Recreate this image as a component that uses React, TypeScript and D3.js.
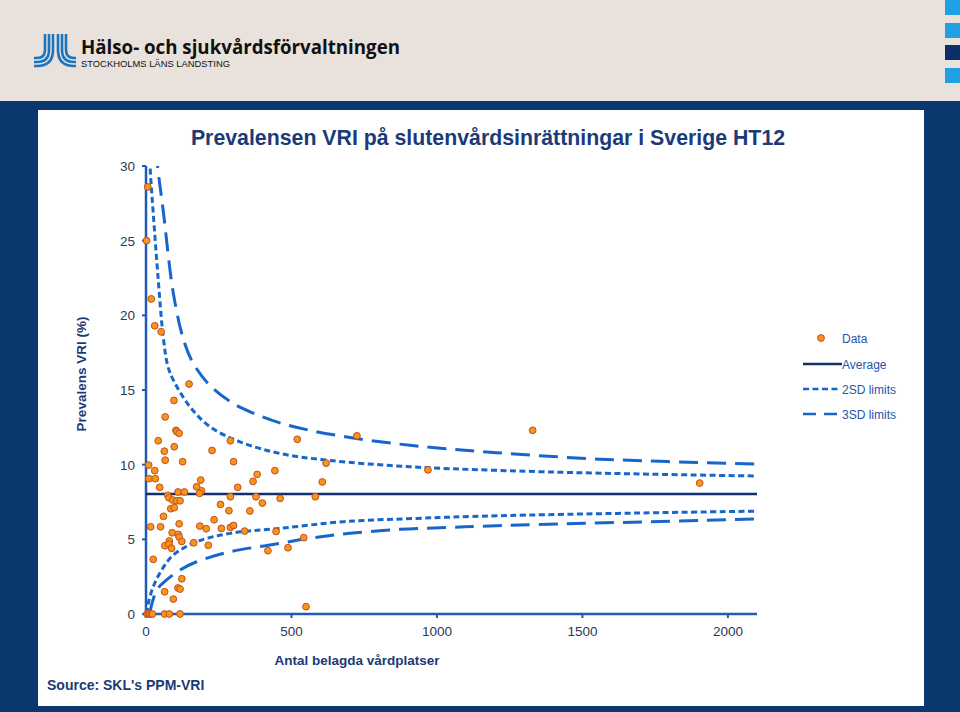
import React from "react";
import * as d3 from "d3";

// ---- data ----
const beds = [6, 2, 18, 30, 52, 148, 96, 66, 103, 106, 114, 42, 290, 520, 63, 97, 227, 66, 126, 301, 619, 9, 30, 443, 10, 32, 188, 382, 368, 606, 47, 174, 191, 184, 315, 110, 132, 75, 79, 92, 106, 117, 290, 378, 461, 582, 256, 400, 85, 97, 285, 357, 60, 234, 16, 50, 114, 185, 207, 259, 290, 301, 339, 447, 90, 111, 114, 123, 80, 65, 79, 88, 164, 214, 419, 488, 542, 25, 123, 64, 110, 117, 94, 550, 725, 1329, 969, 1903, 3, 8, 12, 18, 22, 64, 80, 117];
const prevalence = [28.6, 25.0, 21.1, 19.3, 18.9, 15.4, 14.3, 13.2, 12.3, 12.2, 12.1, 11.6, 11.6, 11.7, 10.9, 11.2, 10.95, 10.3, 10.2, 10.2, 10.1, 9.97, 9.6, 9.6, 9.06, 9.06, 8.97, 9.35, 8.88, 8.84, 8.48, 8.52, 8.25, 8.08, 8.48, 8.17, 8.17, 7.94, 7.78, 7.63, 7.58, 7.58, 7.85, 7.85, 7.74, 7.85, 7.34, 7.43, 7.05, 7.12, 6.92, 6.9, 6.54, 6.31, 5.84, 5.84, 6.04, 5.89, 5.71, 5.73, 5.8, 5.93, 5.55, 5.53, 5.44, 5.33, 5.15, 4.86, 4.89, 4.57, 4.68, 4.4, 4.77, 4.6, 4.24, 4.44, 5.11, 3.66, 2.36, 1.49, 1.74, 1.67, 1.0, 0.49, 11.93, 12.3, 9.65, 8.77, 0, 0, 0, 0, 0, 0, 0, 0];

const averageValue = 8.03;

const upper3X = [25, 40, 59, 94, 130, 162, 220, 300, 380, 460, 563, 701, 861, 1021, 1205, 1560, 2100];
const upper3Y = [33, 29.94, 27.04, 21.47, 18.3, 16.8, 15.3, 14.1, 13.36, 12.8, 12.3, 11.82, 11.4, 11.08, 10.8, 10.37, 10.04];
const upper2X = [8, 14, 25, 42, 59, 75, 94, 151, 220, 323, 460, 632, 907, 1205, 1560, 2100];
const upper2Y = [33, 29.94, 26.8, 22.4, 18.6, 16.6, 15.66, 13.88, 12.54, 11.53, 10.75, 10.28, 9.86, 9.62, 9.43, 9.24];
const lower2X = [3, 8, 25, 54, 94, 174, 289, 460, 678, 930, 1205, 2100];
const lower2Y = [0, 0.72, 1.83, 2.95, 3.95, 4.84, 5.4, 5.73, 6.18, 6.4, 6.58, 6.89];
const lower3X = [12, 37, 71, 117, 174, 289, 426, 563, 701, 873, 1044, 1205, 2100];
const lower3Y = [0, 1.61, 2.28, 2.95, 3.5, 4.17, 4.62, 5.07, 5.4, 5.67, 5.8, 5.91, 6.36];

const xTicks = [0, 500, 1000, 1500, 2000];
const yTicks = [0, 5, 10, 15, 20, 25, 30];
const legendLabels = ["Data", "Average", "2SD limits", "3SD limits"];

const titleText = "Prevalensen VRI på slutenvårdsinrättningar i Sverige HT12";
const xTitle = "Antal belagda vårdplatser";
const yTitle = "Prevalens VRI (%)";
const sourceText = "Source: SKL's PPM-VRI";

// ---- styling ----
const NAVY = "#0b376f";
const TEXT_NAVY = "#1c3a78";
const AXIS = "#1f5bb5";
const CURVE = "#1766cc";
const AVG = "#0f2f6f";
const FONT = "'Liberation Sans', Arial, sans-serif";

export default function App() {
  const W = 960;
  const H = 712;
  const x = d3.scaleLinear().domain([0, 2100]).range([146, 757]);
  const y = d3.scaleLinear().domain([0, 30]).range([614, 166]);

  const line = d3
    .line<[number, number]>()
    .x((d) => x(d[0]))
    .y((d) => y(d[1]))
    .curve(d3.curveCatmullRom.alpha(0.5));
  const pairs = (xs: number[], ys: number[]) => xs.map((v, i) => [v, ys[i]] as [number, number]);

  const legX = 803;
  const legY = [338, 364, 389, 414];

  // logo stripes
  const logoPaths: string[] = [];
  for (let i = 0; i < 3; i++) {
    const vx = 45 + 4 * i;
    const hy = 58 + 4 * i;
    const r = hy - 50;
    logoPaths.push(`M${vx},34 L${vx},${hy - r} Q${vx},${hy} ${vx - r},${hy} L34,${hy}`);
    const vx2 = 66 - 4 * i;
    logoPaths.push(`M${vx2},34 L${vx2},${hy - r} Q${vx2},${hy} ${vx2 + r},${hy} L76,${hy}`);
  }

  return (
    <svg
      width={W}
      height={H}
      style={{ position: "absolute", left: 0, top: 0, display: "block" }}
      fontFamily={FONT}
    >
      <defs>
        <clipPath id="plotClip">
          <rect x={140} y={166} width={640} height={452} />
        </clipPath>
      </defs>
      {/* background */}
      <rect x={0} y={0} width={W} height={H} fill={NAVY} />
      <rect x={0} y={0} width={W} height={101} fill="#e8e1dc" />
      <rect x={38} y={110} width={886} height={596} fill="#ffffff" />

      {/* header squares */}
      <rect x={945} y={0} width={15} height={15} fill="#1fa0e4" />
      <rect x={945} y={23} width={15} height={15} fill="#1fa0e4" />
      <rect x={945} y={45} width={15} height={15} fill="#0b2f66" />
      <rect x={945} y={68} width={15} height={15} fill="#1fa0e4" />

      {/* logo */}
      <g fill="none" stroke="#1c75bc" strokeWidth={2.6}>
        {logoPaths.map((p, i) => (
          <path key={i} d={p} />
        ))}
      </g>
      <text x={81} y={53.7} fontSize={19} fontWeight="bold" fill="#111" fontFamily="'Open Sans', 'Noto Sans', sans-serif" textLength={319} lengthAdjust="spacingAndGlyphs">
        Hälso- och sjukvårdsförvaltningen
      </text>
      <text x={81} y={67.3} fontSize={8.5} fill="#111" fontFamily="'Liberation Sans', Arial, sans-serif" textLength={149} lengthAdjust="spacingAndGlyphs">
        STOCKHOLMS LÄNS LANDSTING
      </text>

      {/* title */}
      <text x={488} y={145} textAnchor="middle" fontSize={21.3} fontWeight="bold" fill={TEXT_NAVY}>
        {titleText}
      </text>

      {/* axes */}
      <line x1={x(0)} x2={x(2100)} y1={y(0)} y2={y(0)} stroke={AXIS} strokeWidth={2.5} />
      <line x1={x(0)} x2={x(0)} y1={y(0)} y2={y(30)} stroke={AXIS} strokeWidth={2.5} />
      {yTicks.map((t) => (
        <g key={"y" + t}>
          <line x1={x(0) - 4} x2={x(0)} y1={y(t)} y2={y(t)} stroke={AXIS} strokeWidth={2} />
          <text x={135} y={y(t) + 5} textAnchor="end" fontSize={13.5} fill="#2b3a55">
            {t}
          </text>
        </g>
      ))}
      {xTicks.map((t) => (
        <g key={"x" + t}>
          <line x1={x(t)} x2={x(t)} y1={y(0)} y2={y(0) + 4} stroke={AXIS} strokeWidth={2} />
          <text x={x(t)} y={636} textAnchor="middle" fontSize={13.5} fill="#2b3a55">
            {t}
          </text>
        </g>
      ))}

      {/* average */}
      <line x1={x(0)} x2={x(2100)} y1={y(averageValue)} y2={y(averageValue)} stroke={AVG} strokeWidth={2.5} />

      {/* limits */}
      <g clipPath="url(#plotClip)" fill="none" stroke={CURVE} strokeWidth={3}>
        <path d={line(pairs(upper2X, upper2Y)) || ""} strokeDasharray="6,3.5" />
        <path d={line(pairs(lower2X, lower2Y)) || ""} strokeDasharray="6,3.5" />
        <path d={line(pairs(upper3X, upper3Y)) || ""} strokeDasharray="19,9" />
        <path d={line(pairs(lower3X, lower3Y)) || ""} strokeDasharray="19,9" />
      </g>

      {/* data */}
      <g>
        {beds.map((b, i) => (
          <circle key={i} cx={x(b)} cy={y(prevalence[i])} r={3.4} fill="#f7941d" stroke="#c4501a" strokeWidth={1} />
        ))}
      </g>

      {/* axis titles */}
      <text
        transform={`translate(86,374) rotate(-90)`}
        textAnchor="middle"
        fontSize={13.5}
        fontWeight="bold"
        fill={TEXT_NAVY}
      >
        {yTitle}
      </text>
      <text x={357} y={665} textAnchor="middle" fontSize={13.5} fontWeight="bold" fill={TEXT_NAVY}>
        {xTitle}
      </text>
      <text x={47} y={690} fontSize={14} fontWeight="bold" fill={TEXT_NAVY}>
        {sourceText}
      </text>

      {/* legend */}
      <circle cx={821} cy={legY[0]} r={3.4} fill="#f7941d" stroke="#c4501a" strokeWidth={1} />
      <line x1={legX} x2={842} y1={legY[1]} y2={legY[1]} stroke={AVG} strokeWidth={2.5} />
      <line x1={legX} x2={841} y1={legY[2]} y2={legY[2]} stroke={CURVE} strokeWidth={2.5} strokeDasharray="6,3.5" />
      <line x1={legX} x2={841} y1={legY[3]} y2={legY[3]} stroke={CURVE} strokeWidth={2.5} strokeDasharray="13,8" />
      {legendLabels.map((l, i) => (
        <text key={l} x={842} y={legY[i] + 4.5} fontSize={12} fill="#2456a8">
          {l}
        </text>
      ))}
    </svg>
  );
}
